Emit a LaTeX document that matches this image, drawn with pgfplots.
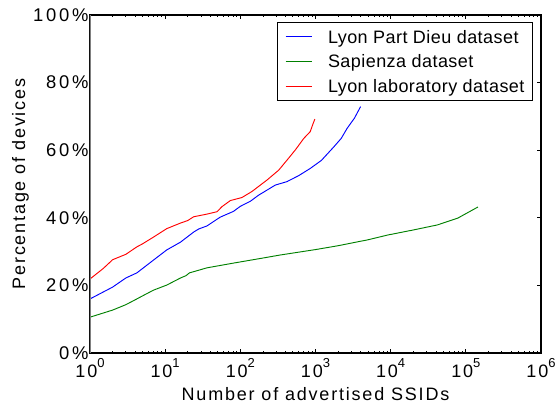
\documentclass[border=0pt]{standalone}
\usepackage{fontspec}
\setmainfont{Liberation Sans}[LetterSpace=10]
\newfontfamily\legfont{Liberation Sans}[LetterSpace=2.5]
\newfontfamily\tickfont{Liberation Sans}[LetterSpace=15]
\usepackage{pgfplots}
\pgfplotsset{compat=1.18}

\newcommand\ex[1]{10\raisebox{7.3pt}{\fontsize{9.75}{10}\selectfont #1}}

\begin{document}
\begin{tikzpicture}
\fontsize{13.5}{16}\selectfont
\useasboundingbox (-67.5pt,-39pt) rectangle (349.5pt,264.75pt);
\begin{axis}[
    scale only axis,
    width=338.25pt,
    height=253.5pt,
    xmode=log,
    xmin=1, xmax=1e6,
    ymin=0, ymax=100,
    xtick={1,10,100,1000,10000,100000,1000000},
    xticklabels={\ex{0},\ex{1},\ex{2},\ex{3},\ex{4},\ex{5},\ex{6}},
    minor xtick={2,3,4,5,6,7,8,9,20,30,40,50,60,70,80,90,
        200,300,400,500,600,700,800,900,
        2000,3000,4000,5000,6000,7000,8000,9000,
        20000,30000,40000,50000,60000,70000,80000,90000,
        200000,300000,400000,500000,600000,700000,800000,900000},
    ytick={0,20,40,60,80,100},
    yticklabels={0\%,20\%,40\%,60\%,80\%,100\%},
    ytick pos=right,
    yticklabel pos=left,
    tick align=inside,
    major tick length=3pt,
    minor tick length=1.6pt,
    tick style={black, line width=0.6pt},
    axis line style={black, line width=0.8pt},
    xticklabel style={anchor=base, yshift=-18pt},
    yticklabel style={anchor=east, inner sep=0pt, xshift=-1pt,
        font=\tickfont\fontsize{13.8}{16}\selectfont},
    xlabel={Number of advertised SSIDs},
    ylabel={Percentage of devices},
    xlabel style={at={(axis description cs:0.5,0)}, anchor=base, yshift=-35.25pt},
    ylabel style={at={(axis description cs:-0.1441,0.5)}, anchor=base},
    legend cell align=left,
    legend image code/.code={\draw[#1, line width=0.75pt] (0pt,0pt) -- (19.5pt,0pt);},
    legend style={
        at={(rel axis cs:0.982,0.979)}, anchor=north east,
        draw=black, line width=0.6pt,
        font=\legfont\fontsize{13.5}{16}\selectfont,
        inner xsep=6pt, inner ysep=5pt,
        column sep=12pt, row sep=6.7pt,
        nodes={inner xsep=0pt, inner ysep=1pt, text height=9.7pt, text depth=0pt},
    },
]
\addplot[blue, line width=0.7pt] coordinates {
    (1,16) (2,19.5) (3,22.2) (4.2,23.7) (7,27.5) (10.5,30.5) (16,32.8)
    (24,35.8) (28,36.7) (36,37.6) (54,40.2) (81,41.9) (100,43.4) (136,44.9)
    (175,46.7) (293,49.7) (417,50.7) (600,52.5) (851,54.6) (1200,57)
    (1755,61) (2200,63.5) (2640,66.5) (3300,69.5) (3980,72.9)
};
\addplot[green!50!black, line width=0.7pt] coordinates {
    (1,10.6) (2,12.7) (3,14.3) (4.2,16) (5,16.9) (7,18.6) (10.5,20.1)
    (16,22.2) (19,22.9) (21,23.7) (36,25.2) (81,26.6) (200,28.1) (340,29)
    (1000,30.6) (1950,31.7) (5000,33.5) (9100,34.9) (20000,36.4)
    (42000,37.9) (78000,39.9) (145000,43.2)
};
\addplot[red, line width=0.7pt] coordinates {
    (1,21.9) (1.5,25) (2,27.6) (3,29.2) (4.2,31.4) (5,32.3) (7,34.3)
    (10.5,36.8) (15.8,38.4) (20,39.2) (23.9,40.3) (36,41.1) (48.9,41.8)
    (57,43.3) (73.6,45.1) (105,46) (143,47.8) (227,51.2) (324,54.1)
    (419,57.1) (540,60.1) (699,63.5) (851,65.5) (930,67.9) (980,69.2)
};
\legend{Lyon Part Dieu dataset, Sapienza dataset, Lyon laboratory dataset}
\draw[gray, line width=1.2pt] (rel axis cs:0,0) -- (rel axis cs:0,1);
\end{axis}
\end{tikzpicture}
\end{document}
